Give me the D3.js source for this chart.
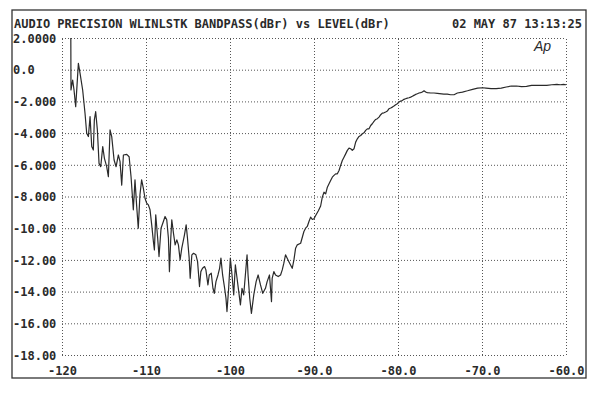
<!DOCTYPE html>
<html>
<head>
<meta charset="utf-8">
<script src="https://cdn.jsdelivr.net/npm/d3@7"></script>
<style>
  body { margin: 0; background: #fff; }
  svg text { font-family: "DejaVu Sans Mono", monospace; fill: #2a2a2a; }
</style>
</head>
<body>
<svg></svg>
<script>
const level = [
  -118.95, -118.93, -118.73, -118.57, -118.37, -118.05, -117.85, -117.54, -117.26, -117.06,
  -116.86, -116.66, -116.46, -116.27, -116.15, -115.99, -115.79, -115.59, -115.39, -115.15,
  -114.95, -114.68, -114.48, -114.28, -114.08, -113.80, -113.56, -113.29, -113.09, -112.89,
  -112.69, -112.29, -112.01, -111.78, -111.51, -111.31, -111.12, -110.92, -110.72, -110.52,
  -110.32, -110.12, -109.92, -109.72, -109.52, -109.32, -109.12, -109.00, -108.84, -108.61,
  -108.45, -108.21, -107.93, -107.73, -107.53, -107.33, -107.21, -107.05, -106.93, -106.73,
  -106.53, -106.33, -106.14, -105.94, -105.74, -105.42, -105.22, -105.06, -104.86, -104.74,
  -104.54, -104.34, -104.06, -103.86, -103.63, -103.47, -103.27, -103.03, -102.87, -102.63,
  -102.47, -102.23, -102.03, -101.87, -101.67, -101.43, -101.24, -101.08, -100.88, -100.64,
  -100.48, -100.36, -100.16, -99.96, -99.76, -99.56, -99.36, -99.16, -98.96, -98.76,
  -98.57, -98.37, -98.17, -97.97, -97.85, -97.65, -97.45, -97.17, -96.89, -96.65,
  -96.37, -96.10, -95.78, -95.58, -95.30, -95.06, -94.98, -94.78, -94.58, -94.26,
  -93.98, -93.78, -93.59, -93.39, -93.19, -92.99, -92.79, -92.59, -92.39, -92.19,
  -91.99, -91.59, -91.20, -91.00, -90.80, -90.60, -90.40, -90.20, -90.00, -89.80,
  -89.48, -89.21, -89.01, -88.81, -88.61, -88.41, -88.21, -88.02, -87.82, -87.62,
  -87.42, -87.22, -87.02, -86.83, -86.63, -86.43, -86.23, -86.03, -85.83, -85.63,
  -85.44, -85.24, -85.04, -84.84, -84.64, -84.44, -84.25, -84.05, -83.85, -83.65,
  -83.45, -83.25, -83.06, -82.86, -82.66, -82.46, -82.26, -82.06, -81.87, -81.67,
  -81.47, -81.27, -81.07, -80.87, -80.67, -80.48, -80.28, -80.08, -79.88, -79.68,
  -79.48, -79.29, -79.09, -78.89, -78.69, -78.49, -78.29, -78.10, -77.90, -77.70,
  -77.50, -77.30, -77.10, -76.90, -76.71, -76.51, -76.11, -75.71, -75.32, -74.54,
  -74.14, -73.73, -73.33, -72.93, -72.33, -71.73, -71.12, -70.52, -69.92, -69.52,
  -68.92, -68.31, -67.71, -67.11, -66.51, -65.90, -65.30, -64.70, -64.10, -63.49,
  -62.89, -62.29, -61.69, -61.08, -60.68, -60.28, -60.00
];
const bandpass = [
  2.00, -1.28, -0.65, -1.28, -2.33, 0.40, -0.23, -1.28, -2.75, -4.01,
  -4.22, -2.96, -4.85, -5.07, -3.17, -2.65, -3.80, -5.91, -6.12, -4.85,
  -5.59, -6.12, -6.75, -3.80, -4.22, -5.70, -6.12, -5.38, -5.80, -7.28,
  -5.38, -5.34, -5.49, -6.75, -8.84, -6.95, -8.53, -10.00, -7.89, -6.95,
  -7.47, -8.11, -8.42, -8.53, -8.84, -9.79, -10.84, -11.37, -9.16, -10.63,
  -11.79, -10.00, -9.58, -9.26, -9.47, -10.63, -12.74, -10.63, -9.47, -10.32,
  -11.05, -10.74, -11.05, -12.00, -11.26, -10.42, -9.79, -10.63, -11.89, -13.16,
  -11.68, -11.58, -11.68, -12.11, -13.68, -12.74, -12.53, -12.42, -12.63, -13.58,
  -12.95, -12.84, -13.79, -14.11, -13.37, -12.95, -12.53, -11.89, -12.95, -13.79,
  -14.42, -15.26, -13.79, -11.89, -12.95, -14.21, -12.32, -13.16, -14.00, -14.84,
  -13.79, -14.21, -12.95, -11.68, -12.95, -14.42, -15.37, -14.21, -13.37, -12.95,
  -13.58, -14.11, -13.79, -13.37, -12.95, -14.63, -13.16, -12.74, -12.95, -13.05,
  -12.95, -12.63, -12.21, -11.68, -11.89, -12.11, -12.32, -12.53, -12.00, -11.26,
  -11.05, -10.95, -10.21, -10.00, -9.89, -9.58, -9.30, -9.45, -9.40, -9.20,
  -8.90, -8.60, -8.04, -7.73, -7.83, -7.41, -7.20, -6.99, -6.78, -6.67,
  -6.57, -6.57, -6.36, -6.04, -5.73, -5.52, -5.31, -5.09, -4.95, -4.99,
  -5.09, -4.99, -4.57, -4.36, -4.21, -4.15, -4.04, -3.98, -3.83, -3.73,
  -3.73, -3.52, -3.41, -3.26, -3.14, -3.09, -2.99, -2.84, -2.74, -2.72,
  -2.67, -2.61, -2.46, -2.42, -2.36, -2.29, -2.21, -2.15, -2.04, -1.98,
  -1.94, -1.87, -1.83, -1.79, -1.77, -1.73, -1.68, -1.62, -1.56, -1.52,
  -1.47, -1.45, -1.41, -1.33, -1.41, -1.45, -1.47, -1.47, -1.49, -1.54,
  -1.54, -1.58, -1.58, -1.47, -1.41, -1.33, -1.24, -1.16, -1.14, -1.16,
  -1.20, -1.20, -1.16, -1.09, -1.03, -1.03, -1.07, -1.05, -0.99, -0.99,
  -0.99, -0.99, -0.95, -0.93, -0.95, -0.93, -0.95
];

const xTicks = [-120, -110, -100, -90, -80, -70, -60];
const xTickLabels = ["-120", "-110", "-100", "-90.0", "-80.0", "-70.0", "-60.0"];
const yTicks = [2, 0, -2, -4, -6, -8, -10, -12, -14, -16, -18];
const yTickLabels = ["2.0000", "0.0", "-2.000", "-4.000", "-6.000", "-8.000",
                     "-10.00", "-12.00", "-14.00", "-16.00", "-18.00"];

const title = "AUDIO PRECISION WLINLSTK BANDPASS(dBr) vs LEVEL(dBr)";
const stamp = "02 MAY 87 13:13:25";

let width = 600, height = 394;
let margin = { top: 38, bottom: 39, left: 62, right: 34 };

let svg = d3.select('svg')
    .attr('width', width)
    .attr('height', height)
    .style('background', '#fff');

// outer frame of the printout
svg.append('rect')
    .attr('x', 12).attr('y', 10)
    .attr('width', 574).attr('height', 368)
    .attr('fill', 'none')
    .attr('stroke', '#333')
    .attr('stroke-width', 1.3);

let xScale = d3.scaleLinear()
    .domain([-120, -60])
    .range([margin.left, width - margin.right]);

let yScale = d3.scaleLinear()
    .domain([-18, 2])
    .range([height - margin.bottom, margin.top]);

let plotH = height - margin.bottom - margin.top;
let plotW = width - margin.right - margin.left;

let xAxis = svg.append('g')
    .attr('transform', `translate(0, ${height - margin.bottom})`)
    .call(d3.axisBottom(xScale)
        .tickValues(xTicks)
        .tickSize(-plotH)
        .tickFormat((d, i) => xTickLabels[i]));

let yAxis = svg.append('g')
    .attr('transform', `translate(${margin.left}, 0)`)
    .call(d3.axisLeft(yScale)
        .tickValues(yTicks)
        .tickSize(-plotW)
        .tickFormat((d, i) => yTickLabels[i]));

// dotted grid, no solid axis line
svg.selectAll('.domain').remove();
svg.selectAll('.tick line')
    .attr('stroke', '#555')
    .attr('stroke-dasharray', '1,2');

xAxis.selectAll('text')
    .attr('y', 20)
    .attr('dy', 0)
    .style('font-size', '12px')
    .style('font-weight', 'bold');

yAxis.selectAll('text')
    .attr('x', 13 - margin.left)
    .attr('text-anchor', 'start')
    .attr('dy', '0.35em')
    .style('font-size', '12px')
    .style('font-weight', 'bold');

svg.selectAll('.tick text').attr('fill', '#2a2a2a');

// measured curve
let line = d3.line()
    .x((d, i) => xScale(level[i]))
    .y(d => yScale(d));

svg.append('path')
    .datum(bandpass)
    .attr('d', line)
    .attr('fill', 'none')
    .attr('stroke', '#2a2a2a')
    .attr('stroke-width', 1.2)
    .attr('stroke-linejoin', 'round');

svg.append('text')
    .attr('x', 14).attr('y', 28)
    .style('font-size', '12px')
    .style('font-weight', 'bold')
    .text(title);

svg.append('text')
    .attr('x', 582).attr('y', 28)
    .attr('text-anchor', 'end')
    .style('font-size', '12px')
    .style('font-weight', 'bold')
    .text(stamp);

svg.append('text')
    .attr('x', 534).attr('y', 51)
    .style('font-family', '"Liberation Sans", sans-serif')
    .style('font-style', 'italic')
    .style('font-size', '14px')
    .text('Ap');
</script>
</body>
</html>
